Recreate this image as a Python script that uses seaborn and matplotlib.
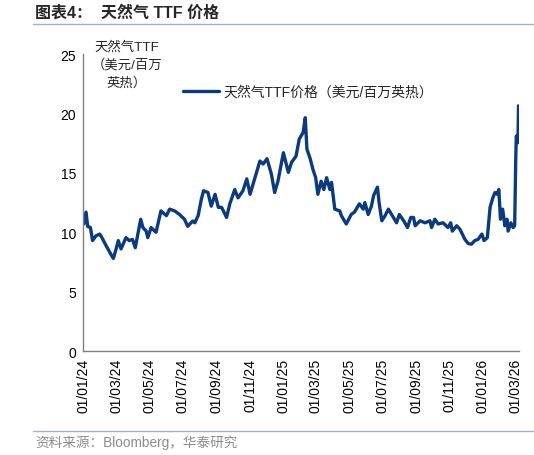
import pandas as pd
import matplotlib
matplotlib.use("Agg")
import matplotlib.pyplot as plt
import matplotlib.dates as mdates
import seaborn as sns

# TTF gas price, USD/MMBtu
dates = [
    "2024-01-02", "2024-01-06", "2024-01-09", "2024-01-14", "2024-01-18", "2024-01-24",
    "2024-01-31", "2024-02-04", "2024-02-12", "2024-02-21", "2024-02-25", "2024-03-01",
    "2024-03-05", "2024-03-10", "2024-03-19", "2024-03-25", "2024-03-31", "2024-04-05",
    "2024-04-15", "2024-04-19", "2024-04-25", "2024-04-28", "2024-05-04", "2024-05-13",
    "2024-05-22", "2024-06-01", "2024-06-07", "2024-06-16", "2024-06-25", "2024-07-04",
    "2024-07-10", "2024-07-19", "2024-07-23", "2024-07-29", "2024-08-04", "2024-08-08",
    "2024-08-16", "2024-08-22", "2024-08-29", "2024-09-04", "2024-09-10", "2024-09-19",
    "2024-09-25", "2024-10-04", "2024-10-10", "2024-10-19", "2024-10-26", "2024-11-01",
    "2024-11-10", "2024-11-19", "2024-11-25", "2024-12-02", "2024-12-10", "2024-12-16",
    "2024-12-22", "2025-01-01", "2025-01-10", "2025-01-16", "2025-01-24", "2025-01-30",
    "2025-02-06", "2025-02-10", "2025-02-13", "2025-02-19", "2025-02-24", "2025-03-01",
    "2025-03-05", "2025-03-11", "2025-03-16", "2025-03-21", "2025-03-27", "2025-03-30",
    "2025-04-05", "2025-04-14", "2025-04-17", "2025-04-26", "2025-05-05", "2025-05-11",
    "2025-05-20", "2025-05-27", "2025-05-30", "2025-06-05", "2025-06-11", "2025-06-15",
    "2025-06-22", "2025-06-25", "2025-06-30", "2025-07-06", "2025-07-12", "2025-07-21",
    "2025-07-27", "2025-08-01", "2025-08-09", "2025-08-16", "2025-08-22", "2025-08-27",
    "2025-08-30", "2025-09-08", "2025-09-17", "2025-09-26", "2025-09-29", "2025-10-05",
    "2025-10-11", "2025-10-20", "2025-10-29", "2025-11-03", "2025-11-06", "2025-11-14",
    "2025-11-20", "2025-11-29", "2025-12-05", "2025-12-11", "2025-12-17", "2025-12-23",
    "2025-12-30", "2026-01-03", "2026-01-09", "2026-01-14", "2026-01-19", "2026-01-23",
    "2026-01-27", "2026-01-30", "2026-02-02", "2026-02-06", "2026-02-10", "2026-02-14",
    "2026-02-16", "2026-02-21", "2026-02-25", "2026-02-28", "2026-03-02", "2026-03-03",
    "2026-03-06", "2026-03-07",
]
ttf_price = [
    10.7, 11.7, 10.5, 10.4, 9.3, 9.7,
    9.85, 9.55, 8.85, 8.1, 7.8, 8.6,
    9.3, 8.6, 9.55, 9.3, 9.4, 8.7,
    11.1, 10.4, 10.1, 9.55, 10.4, 10.0,
    11.8, 11.4, 11.95, 11.8, 11.5, 11.1,
    10.5, 10.95, 10.8, 11.4, 12.8, 13.5,
    13.35, 12.2, 13.2, 12.1, 12.1, 11.25,
    12.4, 13.6, 12.9, 13.5, 14.5, 13.2,
    14.6, 16.0, 15.75, 16.2, 14.9, 13.35,
    14.3, 16.7, 15.05, 15.9, 16.4, 17.85,
    18.4, 19.65, 17.0, 16.2, 15.3, 14.6,
    13.2, 14.3, 13.6, 14.6, 13.6, 14.2,
    11.95, 11.8, 11.4, 10.7, 11.5, 11.7,
    12.4, 11.95, 12.5, 11.5, 12.2, 13.1,
    13.8, 12.5, 10.97, 11.4, 11.95, 11.25,
    10.8, 11.5, 10.97, 10.4, 11.25, 11.25,
    10.55, 10.97, 10.8, 10.97, 10.4, 11.1,
    10.7, 10.8, 10.4, 10.8, 10.1, 10.55,
    10.25, 9.4, 9.05, 9.0, 9.3, 9.4,
    9.85, 9.3, 9.55, 12.1, 12.9, 13.35,
    13.2, 13.6, 11.1, 11.95, 10.55, 11.1,
    10.1, 10.8, 10.4, 10.55, 16.3, 18.1,
    17.55, 20.65,
]
yticks = [0, 5, 10, 15, 20, 25]
series_name = "天然气TTF价格（美元/百万英热）"

df = pd.DataFrame({"date": pd.to_datetime(dates), "price": ttf_price})

sns.set_theme(style="white")
plt.rcParams["font.family"] = ["Liberation Sans", "Noto Sans CJK SC"]

fig = plt.figure(figsize=(5.34, 4.56), dpi=100)
ax = fig.add_axes([0.156, 0.228, 0.816, 0.651])

sns.lineplot(data=df, x="date", y="price", ax=ax, color="#0B3A7E",
             linewidth=2.4, label=series_name)

ax.set_ylim(0, 25)
ax.set_yticks(yticks)
ax.set_xlim(pd.Timestamp("2024-01-01"), pd.Timestamp("2026-03-08"))
ax.xaxis.set_major_locator(mdates.MonthLocator(bymonth=[1, 3, 5, 7, 9, 11]))
ax.xaxis.set_major_formatter(mdates.DateFormatter("%d/%m/%y"))
ax.set_xlabel("")
ax.set_ylabel("")

for side in ["top", "right"]:
    ax.spines[side].set_visible(False)
for side in ["left", "bottom"]:
    ax.spines[side].set_color("#808080")
    ax.spines[side].set_linewidth(1.0)
ax.tick_params(axis="both", which="major", direction="out", length=3, width=1,
               color="#808080", labelsize=10, labelcolor="black", pad=2)
ax.tick_params(axis="x", labelrotation=90)

leg = ax.legend(loc="upper left", bbox_to_anchor=(0.2, 0.94), frameon=False,
                fontsize=10, handlelength=2.6, handletextpad=0.3)

# y unit label inside the top-left corner
ax.text(0.1, 1.05, "天然气TTF\n（美元/百万\n英热）", transform=ax.transAxes,
        ha="center", va="top", fontsize=9.6, linespacing=1.55)

# title, separators and source
fig.text(0.066, 0.972, "图表4：  天然气 TTF 价格", ha="left", va="center",
         fontsize=11.5, fontweight="bold")
fig.add_artist(plt.Line2D([0.062, 1.0], [0.945, 0.945], color="#9FB4CC", linewidth=1))
fig.add_artist(plt.Line2D([0.062, 1.0], [0.052, 0.052], color="#9FB4CC", linewidth=1))
fig.text(0.066, 0.028, "资料来源：Bloomberg，华泰研究", ha="left", va="center",
         fontsize=9.8, color="#8C8C8C")

fig.savefig("out.png", dpi=100)
plt.close(fig)
